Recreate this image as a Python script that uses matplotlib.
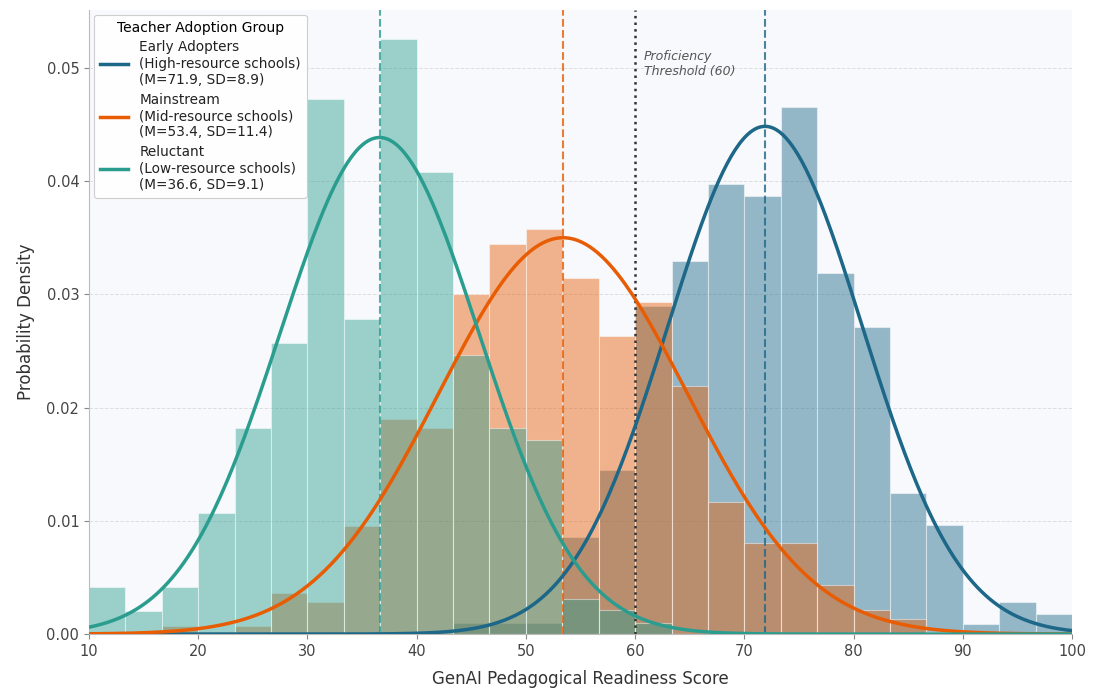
import numpy as np
import matplotlib
matplotlib.use("Agg")
import matplotlib.pyplot as plt

plt.rcParams['font.family'] = ['DejaVu Sans']

bin_edges = np.linspace(10, 100, 28)

groups = ["Early Adopters\n(High-resource schools)\n(M=71.9, SD=8.9)",
          "Mainstream\n(Mid-resource schools)\n(M=53.4, SD=11.4)",
          "Reluctant\n(Low-resource schools)\n(M=36.6, SD=9.1)"]
means = [71.9, 53.4, 36.6]
sds = [8.9, 11.4, 9.1]
colors = ["#1d6788", "#e85d04", "#2a9d8f"]

early_density = [0, 0, 0, 0, 0, 0, 0, 0, 0, 0,
                 0.00094, 0.00094, 0.00094, 0.0086, 0.0145, 0.0290,
                 0.0329, 0.0397, 0.0387, 0.0465, 0.0319, 0.0271,
                 0.0125, 0.0096, 0.00092, 0.00284, 0.00180]
mainstream_density = [0, 0, 0.0007, 0.0002, 0.0007, 0.00365, 0.00286, 0.0095,
                      0.0190, 0.0182, 0.0300, 0.0344, 0.0358, 0.0314, 0.02635,
                      0.0293, 0.0219, 0.0117, 0.0080, 0.0080, 0.00437, 0.00212,
                      0.00135, 0.0002, 0, 0, 0]
reluctant_density = [0.0042, 0.00205, 0.0042, 0.01066, 0.0182, 0.0257, 0.0472,
                     0.0278, 0.0525, 0.0408, 0.0246, 0.0182, 0.0171, 0.0031,
                     0.0021, 0.0010, 0, 0, 0, 0, 0, 0, 0, 0, 0, 0, 0]
densities = [early_density, mainstream_density, reluctant_density]

threshold = 60

fig = plt.figure(figsize=(10.99, 6.93), dpi=100)
ax = fig.add_axes([0.081, 0.085, 0.8944, 0.9006])
ax.set_facecolor("#f7f9fc")

widths = np.diff(bin_edges)
x = np.linspace(10, 100, 500)
for lab, m, s, c, d in zip(groups, means, sds, colors, densities):
    ax.bar(bin_edges[:-1], d, width=widths, align='edge', color=c, alpha=0.45,
           edgecolor='white', linewidth=0.8)
for lab, m, s, c, d in zip(groups, means, sds, colors, densities):
    pdf = np.exp(-0.5 * ((x - m) / s) ** 2) / (s * np.sqrt(2 * np.pi))
    ax.plot(x, pdf, color=c, lw=2.5, label=lab, zorder=4)
    ax.axvline(m, color=c, ls='--', lw=1.5, alpha=0.8, zorder=3)

ax.axvline(threshold, color='#333333', ls=':', lw=1.8, zorder=3)
ax.text(threshold + 0.8, 0.0516, "Proficiency\nThreshold (60)", fontsize=9,
        style='italic', color='#555555', va='top', ha='left')

ax.set_xlim(10, 100)
ax.set_ylim(0, 0.0551)
ax.set_yticks([0, 0.01, 0.02, 0.03, 0.04, 0.05])
ax.set_yticklabels(["0.00", "0.01", "0.02", "0.03", "0.04", "0.05"])
ax.grid(axis='y', ls='--', color='#cccccc', alpha=0.6, lw=0.7)
ax.set_axisbelow(True)
for sp in ['top', 'right']:
    ax.spines[sp].set_visible(False)
for sp in ['left', 'bottom']:
    ax.spines[sp].set_color('#bbbbbb')
ax.tick_params(colors='#444444', labelsize=10.5, color='#888888')
ax.set_xlabel("GenAI Pedagogical Readiness Score", fontsize=12, color='#333333', labelpad=8)
ax.set_ylabel("Probability Density", fontsize=12, color='#333333', labelpad=8)

leg = ax.legend(title="Teacher Adoption Group", loc='upper left', fontsize=9.8,
                title_fontsize=10, frameon=True, framealpha=0.95,
                edgecolor='#cccccc', borderpad=0.45, labelspacing=0.4,
                handlelength=2.1, handletextpad=0.8, borderaxespad=0.35)
leg.get_frame().set_linewidth(0.8)
for t in leg.get_texts():
    t.set_color('#222222')
    t.set_linespacing(1.22)

fig.savefig("out.png", dpi=100, facecolor='white')
